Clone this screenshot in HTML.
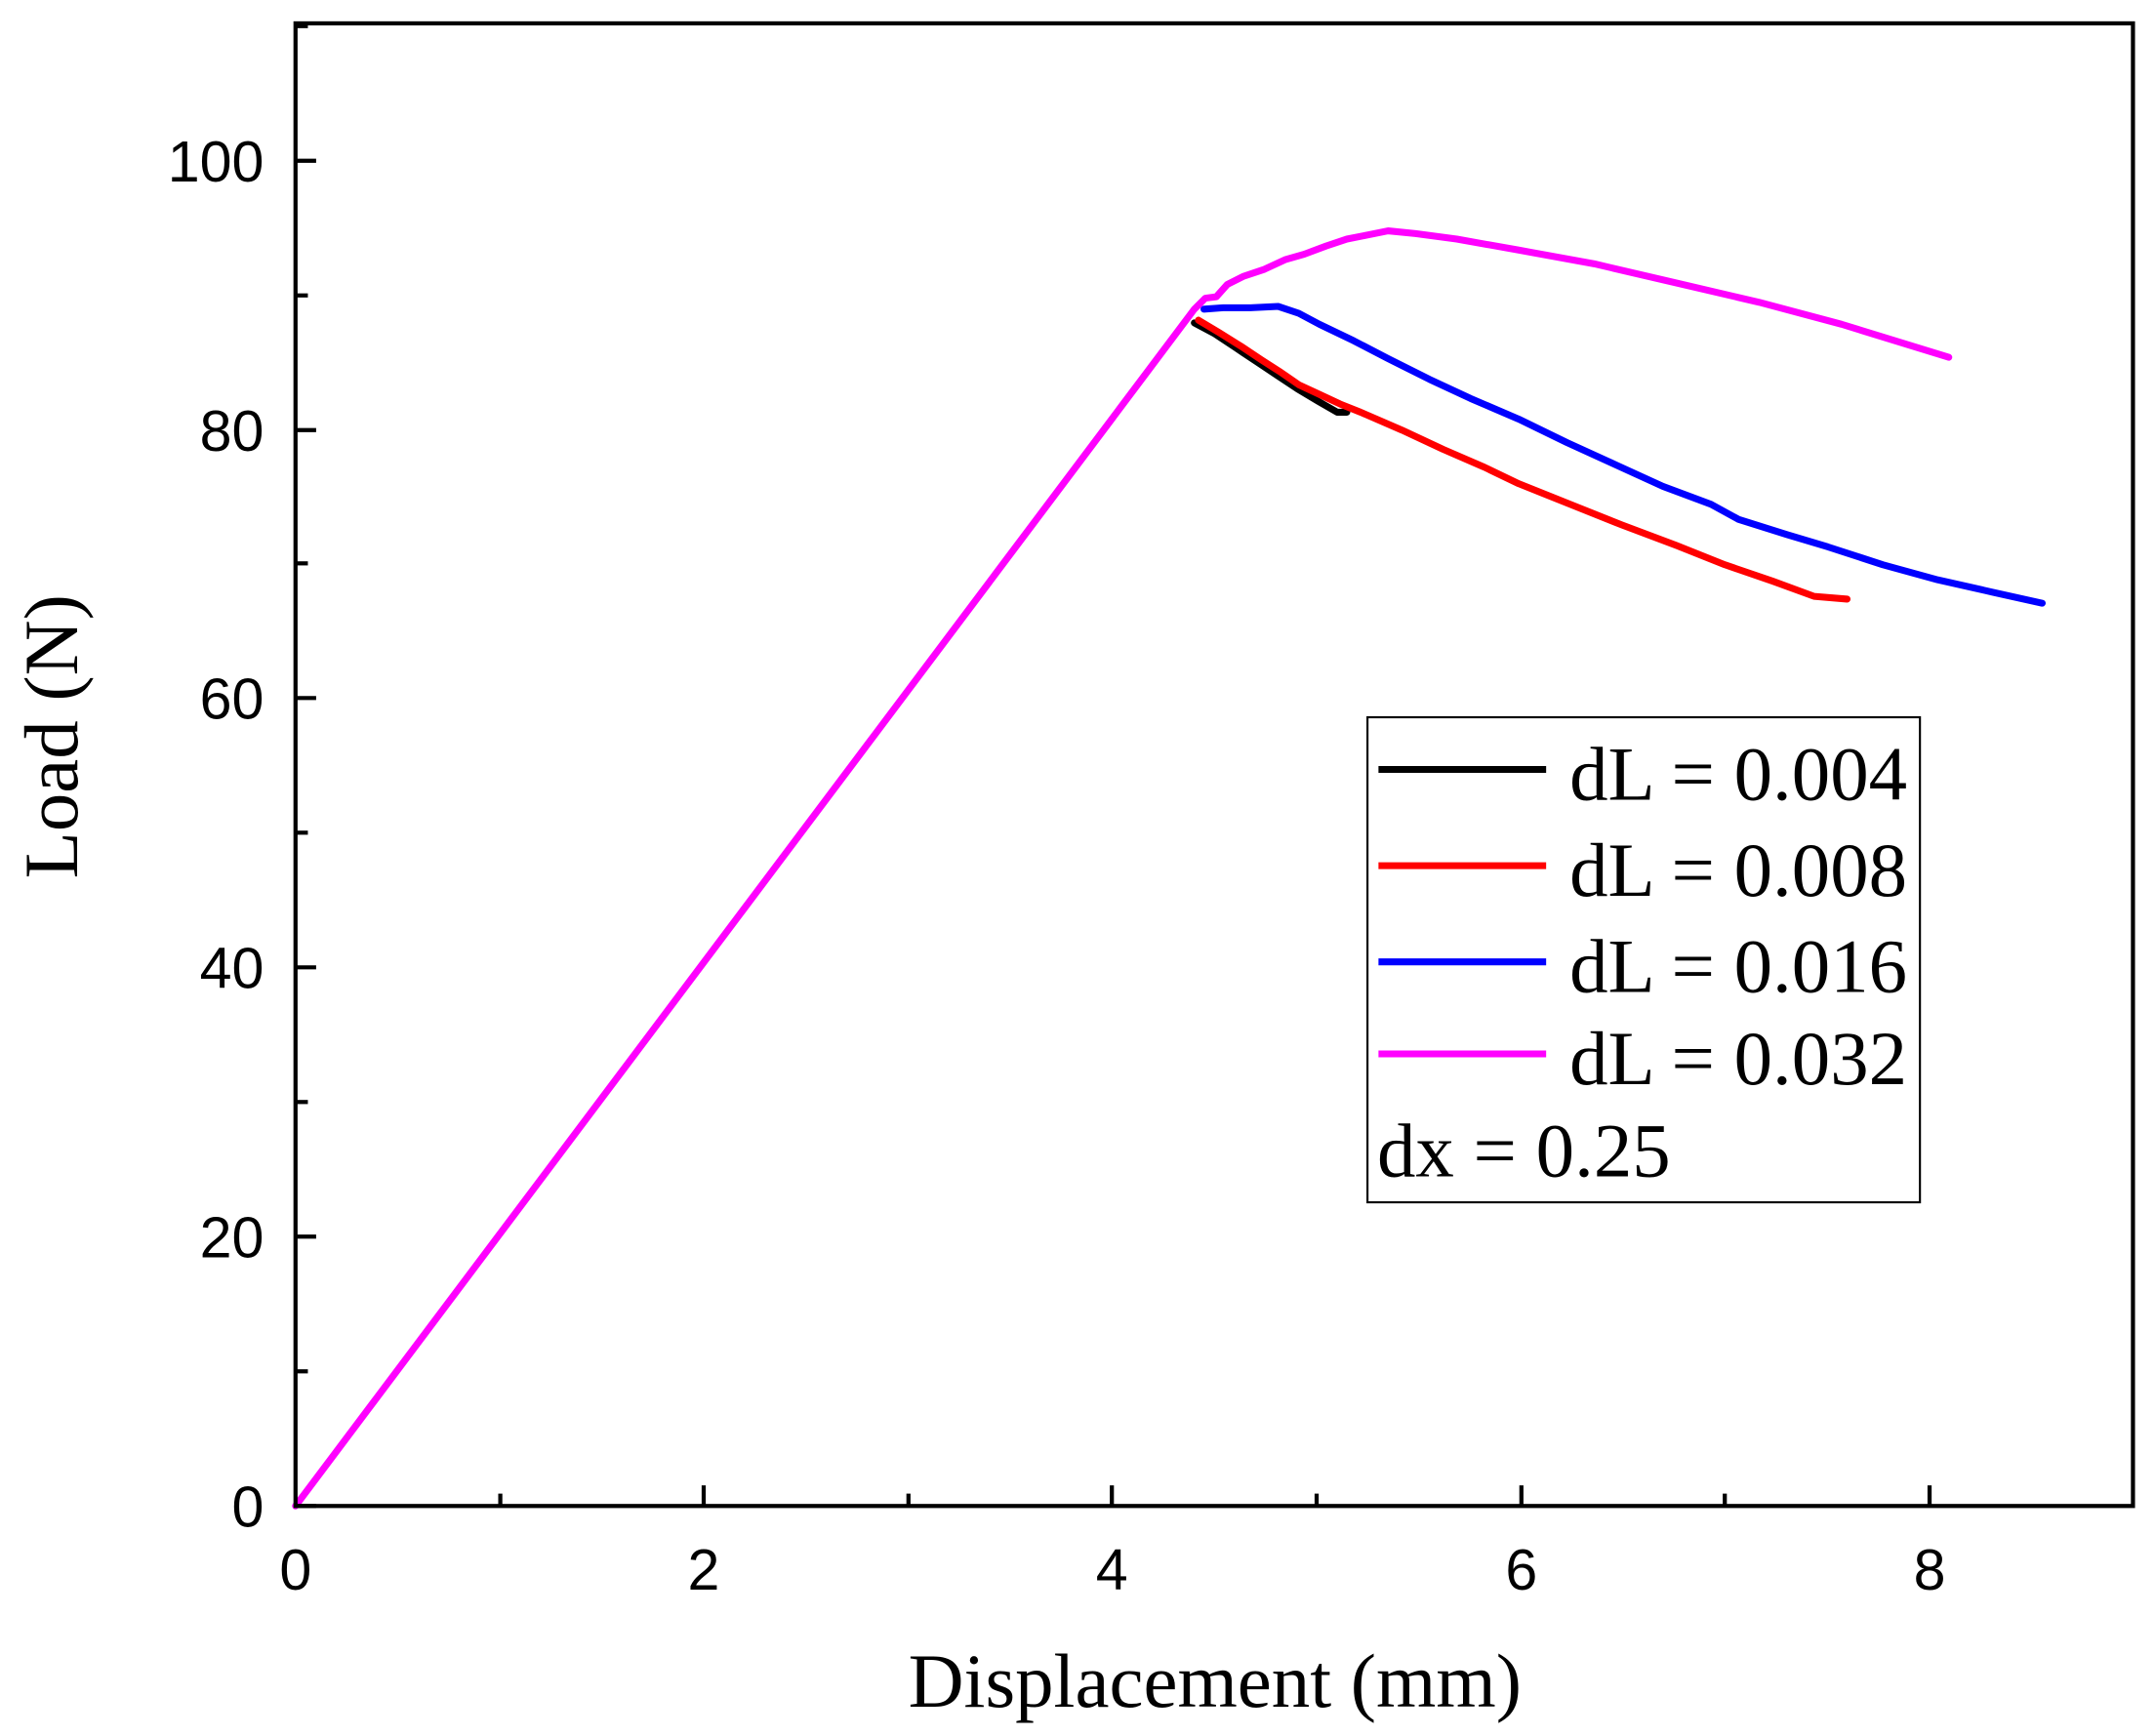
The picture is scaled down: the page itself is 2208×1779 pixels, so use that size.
<!DOCTYPE html>
<html><head><style>html,body{margin:0;padding:0;background:#fff}svg{display:block}</style></head>
<body>
<svg width="2208" height="1779" viewBox="0 0 1568 1263.4" xmlns="http://www.w3.org/2000/svg">
<rect width="1568" height="1264" fill="#fff"/>
<g fill="none" stroke-linejoin="round" stroke-linecap="round" stroke-width="5">
<polyline stroke="#000" points="869,235 884,243 899,253 914,263 929,273 944,283 959,292 973,300 980,300"/>
<polyline stroke="#f00" points="872,233 887,242 903,252 918,262 932,271 945,280 960,287 975,294 990,300 1020,313 1050,327 1080,340 1105,352 1140,366 1180,382 1220,397 1255,411 1290,423 1320,434 1344,436"/>
<polyline stroke="#00f" points="876,225 890,224 910,224 930,223 945,228 960,236 985,248 1010,261 1040,276 1070,290 1105,305 1140,322 1175,338 1210,354 1245,367 1265,378 1300,389 1330,398 1370,411 1410,422 1450,431 1486,439"/>
<polyline stroke="#f0f" points="215,1096 869,225 877,217 885,216 893,207 905,201 920,196 935,189 949,185 965,179 980,174 995,171 1010,168 1030,170 1060,174 1105,182 1160,192 1220,206 1280,220 1340,236 1418,260"/>
</g>
<rect x="215" y="17" width="1337" height="1079" stroke="#000" stroke-width="3" fill="none"/>
<g stroke="#000" stroke-width="3">
<line x1="215" y1="1096" x2="230" y2="1096"/>
<line x1="215" y1="998" x2="224" y2="998"/>
<line x1="215" y1="900" x2="230" y2="900"/>
<line x1="215" y1="802" x2="224" y2="802"/>
<line x1="215" y1="704" x2="230" y2="704"/>
<line x1="215" y1="606" x2="224" y2="606"/>
<line x1="215" y1="508" x2="230" y2="508"/>
<line x1="215" y1="410" x2="224" y2="410"/>
<line x1="215" y1="313" x2="230" y2="313"/>
<line x1="215" y1="215" x2="224" y2="215"/>
<line x1="215" y1="117" x2="230" y2="117"/>
<line x1="215" y1="19" x2="224" y2="19"/>
<line x1="364" y1="1096" x2="364" y2="1087"/>
<line x1="512" y1="1096" x2="512" y2="1081"/>
<line x1="661" y1="1096" x2="661" y2="1087"/>
<line x1="809" y1="1096" x2="809" y2="1081"/>
<line x1="958" y1="1096" x2="958" y2="1087"/>
<line x1="1107" y1="1096" x2="1107" y2="1081"/>
<line x1="1255" y1="1096" x2="1255" y2="1087"/>
<line x1="1404" y1="1096" x2="1404" y2="1081"/>
</g>
<g font-family="Liberation Sans, sans-serif" font-size="42" fill="#000">
<g text-anchor="end">
<text x="192" y="1111">0</text>
<text x="192" y="915">20</text>
<text x="192" y="719">40</text>
<text x="192" y="523">60</text>
<text x="192" y="328">80</text>
<text x="192" y="132">100</text>
</g>
<g text-anchor="middle">
<text x="215" y="1157">0</text>
<text x="512" y="1157">2</text>
<text x="809" y="1157">4</text>
<text x="1107" y="1157">6</text>
<text x="1404" y="1157">8</text>
</g>
</g>
<g font-family="Liberation Serif, serif" fill="#000">
<text x="884" y="1242" font-size="56" text-anchor="middle">Displacement (mm)</text>
<text transform="translate(56,536) rotate(-90)" font-size="56" text-anchor="middle">Load (N)</text>
</g>
<rect x="995" y="522" width="402" height="353" fill="#fff" stroke="#000" stroke-width="1.5"/>
<g stroke-width="5">
<line x1="1003" y1="560" x2="1125" y2="560" stroke="#000"/>
<line x1="1003" y1="630" x2="1125" y2="630" stroke="#f00"/>
<line x1="1003" y1="700" x2="1125" y2="700" stroke="#00f"/>
<line x1="1003" y1="767" x2="1125" y2="767" stroke="#f0f"/>
</g>
<g font-family="Liberation Serif, serif" font-size="56" fill="#000">
<text x="1142" y="582">dL = 0.004</text>
<text x="1142" y="652">dL = 0.008</text>
<text x="1142" y="722">dL = 0.016</text>
<text x="1142" y="789">dL = 0.032</text>
<text x="1002" y="856">dx = 0.25</text>
</g>
</svg>
</body></html>
